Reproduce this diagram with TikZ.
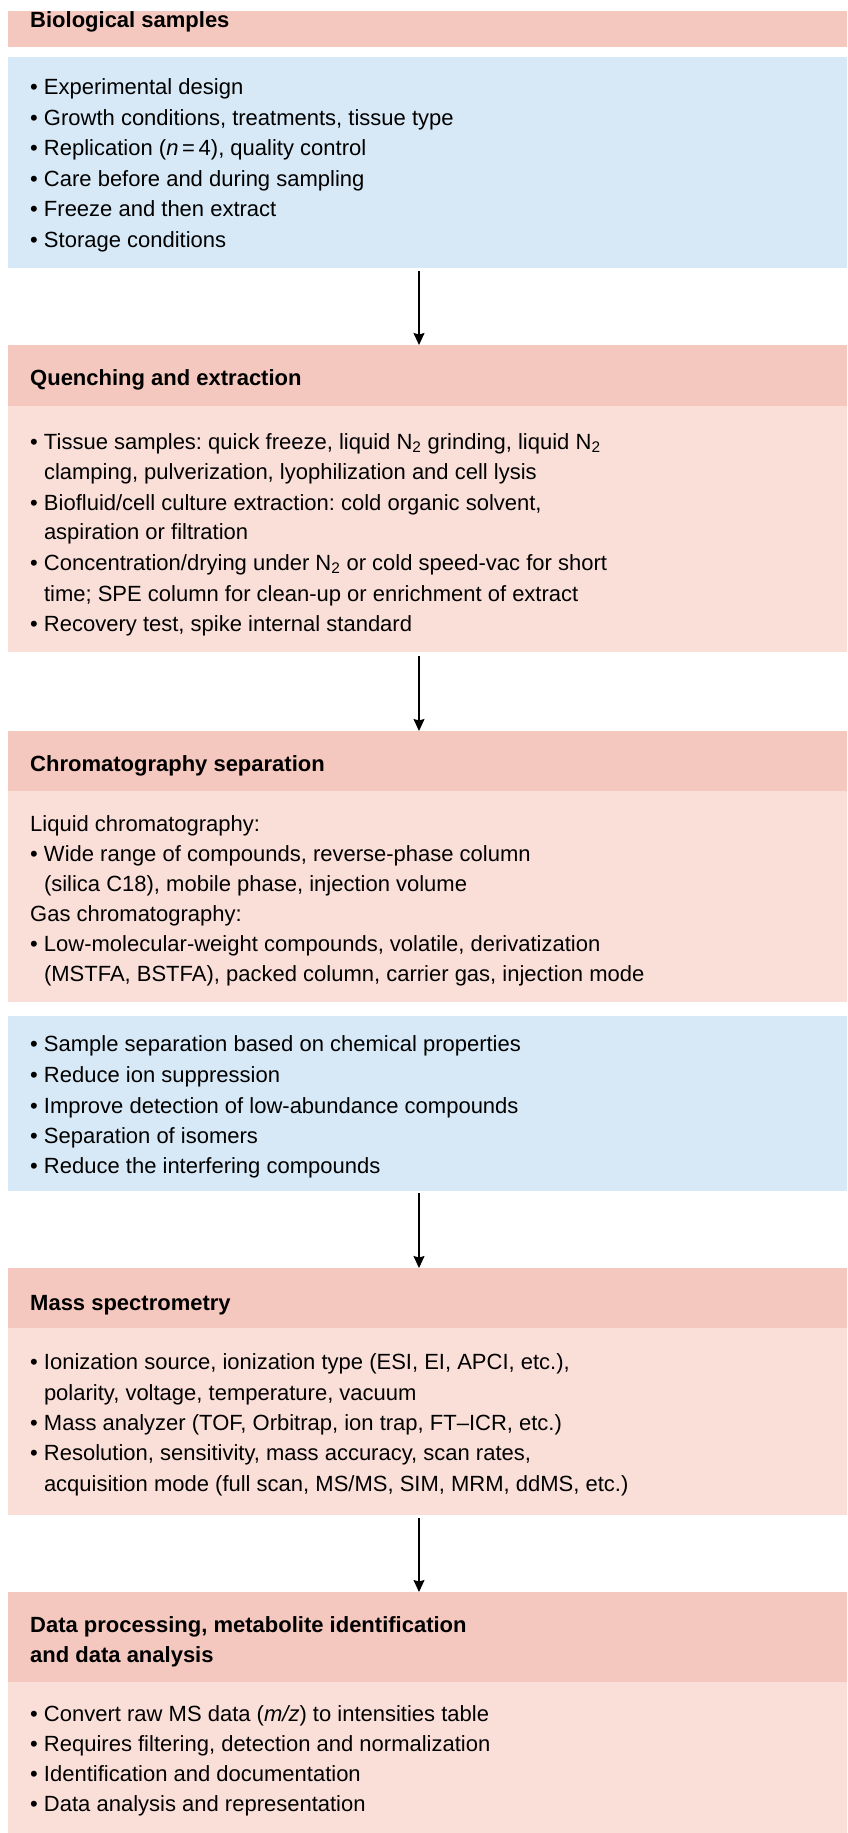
\documentclass[tikz,border=0pt]{standalone}
\usepackage{fontspec}
\setmainfont{Liberation Sans}
\usetikzlibrary{arrows.meta}
\definecolor{hdr}{HTML}{F4C8BF}
\definecolor{bdy}{HTML}{FADFD9}
\definecolor{blu}{HTML}{D7E9F6}
\newcommand{\bul}{\textbullet\ }
\newcommand{\cont}{\phantom{\textbullet\ }}
\frenchspacing
\begin{document}
\begin{tikzpicture}[x=1pt,y=-1pt,
  box/.style={rectangle,draw=none,inner sep=0pt,outer sep=0pt,anchor=north west,minimum width=839pt},
  hbox/.style={box,fill=hdr},
  pbox/.style={box,fill=bdy},
  bbox/.style={box,fill=blu},
  ttl/.style={anchor=base west,inner sep=0pt,font=\fontsize{22}{26}\selectfont\bfseries},
  txt/.style={anchor=base west,inner sep=0pt,font=\fontsize{22}{26}\selectfont},
  arr/.style={line width=1.4pt,-{Stealth[length=12pt,width=11pt,inset=1.5pt]}}]
\useasboundingbox (0,0) rectangle (847,1833);
\fill[white] (0,0) rectangle (847,1833);
% boxes
\node[hbox,minimum height=36pt] (h1) at (8,11) {};
\node[bbox,minimum height=211pt] (b1) at (8,57) {};
\node[hbox,minimum height=61pt] (h2) at (8,345) {};
\node[pbox,minimum height=246pt] (b2) at (8,406) {};
\node[hbox,minimum height=60pt] (h3) at (8,731) {};
\node[pbox,minimum height=211pt] (b3) at (8,791) {};
\node[bbox,minimum height=175pt] (c3) at (8,1016) {};
\node[hbox,minimum height=60pt] (h4) at (8,1268) {};
\node[pbox,minimum height=187pt] (b4) at (8,1328) {};
\node[hbox,minimum height=90pt] (h5) at (8,1592) {};
\node[pbox,minimum height=151pt] (b5) at (8,1682) {};
% arrows
\coordinate (ax) at (419,0);
\draw[arr] ([yshift=-3pt]b1.south -| ax) -- (h2.north -| ax);
\draw[arr] ([yshift=-4pt]b2.south -| ax) -- (h3.north -| ax);
\draw[arr] ([yshift=-2pt]c3.south -| ax) -- (h4.north -| ax);
\draw[arr] ([yshift=-3pt]b4.south -| ax) -- (h5.north -| ax);
% section 1
\node[ttl] (t1) at (30,28) {Biological samples};
\node[txt] (s1a) at (30,95) {\bul Experimental design};
\node[txt] (s1b) at (30,126) {\bul Growth conditions, treatments, tissue type};
\node[txt] (s1c) at (30,156) {\bul Replication (\textit{n}\,=\,4), quality control};
\node[txt] (s1d) at (30,186) {\bul Care before and during sampling};
\node[txt] (s1e) at (30,216) {\bul Freeze and then extract};
\node[txt] (s1f) at (30,247) {\bul Storage conditions};
% section 2
\node[ttl] (t2) at (30,385) {Quenching and extraction};
\node[txt] (s2a) at (30,449) {\bul Tissue samples: quick freeze, liquid N\textsubscript{2} grinding, liquid N\textsubscript{2}};
\node[txt] (s2b) at (30,479) {\cont clamping, pulverization, lyophilization and cell lysis};
\node[txt] (s2c) at (30,510) {\bul Biofluid/cell culture extraction: cold organic solvent,};
\node[txt] (s2d) at (30,539) {\cont aspiration or filtration};
\node[txt] (s2e) at (30,570) {\bul Concentration/drying under N\textsubscript{2} or cold speed-vac for short};
\node[txt] (s2f) at (30,601) {\cont time; SPE column for clean-up or enrichment of extract};
\node[txt] (s2g) at (30,631) {\bul Recovery test, spike internal standard};
% section 3
\node[ttl] (t3) at (30,771) {Chromatography separation};
\node[txt] (s3a) at (30,831) {Liquid chromatography:};
\node[txt] (s3b) at (30,861) {\bul Wide range of compounds, reverse-phase column};
\node[txt] (s3c) at (30,891) {\cont (silica C18), mobile phase, injection volume};
\node[txt] (s3d) at (30,921) {Gas chromatography:};
\node[txt] (s3e) at (30,951) {\bul Low-molecular-weight compounds, volatile, derivatization};
\node[txt] (s3f) at (30,981) {\cont (MSTFA, BSTFA), packed column, carrier gas, injection mode};
\node[txt] (u3a) at (30,1051) {\bul Sample separation based on chemical properties};
\node[txt] (u3b) at (30,1082) {\bul Reduce ion suppression};
\node[txt] (u3c) at (30,1113) {\bul Improve detection of low-abundance compounds};
\node[txt] (u3d) at (30,1143) {\bul Separation of isomers};
\node[txt] (u3e) at (30,1173) {\bul Reduce the interfering compounds};
% section 4
\node[ttl] (t4) at (30,1310) {Mass spectrometry};
\node[txt] (s4a) at (30,1369) {\bul Ionization source, ionization type (ESI, EI, APCI, etc.),};
\node[txt] (s4b) at (30,1400) {\cont polarity, voltage, temperature, vacuum};
\node[txt] (s4c) at (30,1430) {\bul Mass analyzer (TOF, Orbitrap, ion trap, FT--ICR, etc.)};
\node[txt] (s4d) at (30,1460) {\bul Resolution, sensitivity, mass accuracy, scan rates,};
\node[txt] (s4e) at (30,1491) {\cont acquisition mode (full scan, MS/MS, SIM, MRM, ddMS, etc.)};
% section 5
\node[ttl] (t5a) at (30,1632) {Data processing, metabolite identification};
\node[ttl] (t5b) at (30,1662) {and data analysis};
\node[txt] (s5a) at (30,1721) {\bul Convert raw MS data (\textit{m/z}) to intensities table};
\node[txt] (s5b) at (30,1751) {\bul Requires filtering, detection and normalization};
\node[txt] (s5c) at (30,1781) {\bul Identification and documentation};
\node[txt] (s5d) at (30,1811) {\bul Data analysis and representation};
\end{tikzpicture}
\end{document}
